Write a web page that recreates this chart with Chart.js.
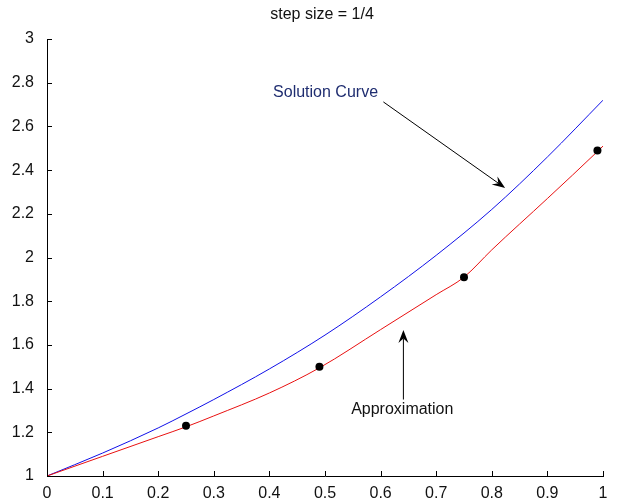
<!DOCTYPE html>
<html>
<head>
<meta charset="utf-8">
<script src="https://cdn.jsdelivr.net/npm/chart.js@4"></script>
<style>
html,body{margin:0;padding:0;background:#fff;}
canvas{display:block;}
</style>
</head>
<body>
<canvas id="c" width="618" height="499"></canvas>
<script>
// ---- data ----
const solX = [0, 0.1, 0.2, 0.25, 0.3, 0.4, 0.5, 0.6, 0.7, 0.8, 0.9, 1.0];
const solY = [1, 1.105, 1.22, 1.284, 1.35, 1.49, 1.645, 1.82, 2.01, 2.22, 2.46, 2.72];

const apxX = [0, 0.1, 0.2, 0.25, 0.3, 0.4, 0.49, 0.6, 0.7, 0.75, 0.8, 0.9, 0.99, 1.0];
const apxY = [1, 1.09, 1.18, 1.225, 1.275, 1.38, 1.495, 1.67, 1.83, 1.91, 2.035, 2.27, 2.485, 2.51];

const ptX = [0.25, 0.49, 0.75, 0.99];
const ptY = [1.23, 1.5, 1.91, 2.49];

const xTicks = [0, 0.1, 0.2, 0.3, 0.4, 0.5, 0.6, 0.7, 0.8, 0.9, 1];
const xTickLabels = ['0', '0.1', '0.2', '0.3', '0.4', '0.5', '0.6', '0.7', '0.8', '0.9', '1'];
const yTicks = [1, 1.2, 1.4, 1.6, 1.8, 2, 2.2, 2.4, 2.6, 2.8, 3];
const yTickLabels = ['1', '1.2', '1.4', '1.6', '1.8', '2', '2.2', '2.4', '2.6', '2.8', '3'];

const titleText = 'step size = 1/4';
const solLabel = 'Solution Curve';
const apxLabel = 'Approximation';

// annotation anchors in data units
const solText = {x: 0.501, y: 2.757};
const solArrow = {x1: 0.605, y1: 2.712, x2: 0.824, y2: 2.318};
const apxText = {x: 0.639, y: 1.302};
const apxArrow = {x1: 0.641, y1: 1.35, x2: 0.641, y2: 1.668};

const FONT = '"Liberation Sans", Arial, sans-serif';

function zip(xs, ys){ return xs.map((x,i)=>({x:x, y:ys[i]})); }

function drawArrow(ctx, x1, y1, x2, y2){
  ctx.save();
  ctx.strokeStyle = '#000';
  ctx.fillStyle = '#000';
  ctx.lineWidth = 1;
  const ang = Math.atan2(y2 - y1, x2 - x1);
  const L = 13, W = 5;
  const bx = x2 - L * Math.cos(ang), by = y2 - L * Math.sin(ang);
  const nx = x2 - L * 0.65 * Math.cos(ang), ny = y2 - L * 0.65 * Math.sin(ang);
  ctx.beginPath();
  ctx.moveTo(x1, y1);
  ctx.lineTo(nx, ny);
  ctx.stroke();
  ctx.beginPath();
  ctx.moveTo(x2, y2);
  ctx.lineTo(bx + W * Math.sin(ang), by - W * Math.cos(ang));
  ctx.lineTo(nx, ny);
  ctx.lineTo(bx - W * Math.sin(ang), by + W * Math.cos(ang));
  ctx.closePath();
  ctx.fill();
  ctx.restore();
}

const overlay = {
  id: 'overlay',
  afterDraw(chart){
    const ctx = chart.ctx;
    const xs = chart.scales.x, ys = chart.scales.y;
    const area = chart.chartArea;
    ctx.save();
    // inside tick marks
    ctx.strokeStyle = '#000';
    ctx.lineWidth = 1;
    ctx.beginPath();
    yTicks.forEach(v => {
      const py = Math.round(ys.getPixelForValue(v)) + 0.5;
      ctx.moveTo(area.left, py);
      ctx.lineTo(area.left + 5, py);
    });
    xTicks.forEach(v => {
      const px = Math.round(xs.getPixelForValue(v)) + 0.5;
      ctx.moveTo(px, area.bottom);
      ctx.lineTo(px, area.bottom - 5);
    });
    ctx.stroke();

    // title
    ctx.fillStyle = '#111';
    ctx.font = '16px ' + FONT;
    ctx.textAlign = 'center';
    ctx.textBaseline = 'middle';
    ctx.fillText(titleText, 322, 15);

    // annotations
    ctx.fillStyle = '#1f2d70';
    ctx.fillText(solLabel, xs.getPixelForValue(solText.x), ys.getPixelForValue(solText.y));
    ctx.fillStyle = '#111';
    ctx.fillText(apxLabel, xs.getPixelForValue(apxText.x), ys.getPixelForValue(apxText.y));

    drawArrow(ctx, xs.getPixelForValue(solArrow.x1), ys.getPixelForValue(solArrow.y1),
                   xs.getPixelForValue(solArrow.x2), ys.getPixelForValue(solArrow.y2));
    drawArrow(ctx, xs.getPixelForValue(apxArrow.x1), ys.getPixelForValue(apxArrow.y1),
                   xs.getPixelForValue(apxArrow.x2), ys.getPixelForValue(apxArrow.y2));
    ctx.restore();
  }
};

new Chart(document.getElementById('c'), {
  type: 'scatter',
  data: {
    datasets: [
      {
        label: solLabel,
        data: zip(solX, solY),
        showLine: true,
        borderColor: '#1010e8',
        borderWidth: 1,
        pointRadius: 0,
        cubicInterpolationMode: 'monotone',
        order: 3
      },
      {
        label: apxLabel,
        data: zip(apxX, apxY),
        showLine: true,
        borderColor: '#e81010',
        borderWidth: 1,
        pointRadius: 0,
        cubicInterpolationMode: 'monotone',
        order: 2
      },
      {
        label: 'points',
        data: zip(ptX, ptY),
        showLine: false,
        pointRadius: 4,
        pointBackgroundColor: '#000',
        pointBorderColor: '#000',
        pointBorderWidth: 0,
        order: 1
      }
    ]
  },
  options: {
    responsive: false,
    devicePixelRatio: 1,
    animation: false,
    layout: { padding: { left: 0, right: 15, top: 39, bottom: 0 } },
    plugins: {
      legend: { display: false },
      tooltip: { enabled: false },
      title: { display: false }
    },
    scales: {
      x: {
        type: 'linear',
        min: 0, max: 1,
        afterBuildTicks(s){ s.ticks = xTicks.map(v => ({value: v})); },
        afterFit(s){ s.height = 23; },
        grid: { display: false },
        border: { display: true, color: '#000', width: 1 },
        ticks: {
          color: '#111',
          font: { family: FONT, size: 16 },
          padding: 0,
          maxRotation: 0,
          autoSkip: false,
          callback: (v, i) => xTickLabels[i]
        }
      },
      y: {
        type: 'linear',
        min: 1, max: 3,
        afterBuildTicks(s){ s.ticks = yTicks.map(v => ({value: v})); },
        afterFit(s){ s.width = 47; },
        grid: { display: false },
        border: { display: true, color: '#000', width: 1 },
        ticks: {
          color: '#111',
          font: { family: FONT, size: 16 },
          padding: 5,
          autoSkip: false,
          callback: (v, i) => yTickLabels[i]
        }
      }
    }
  },
  plugins: [overlay]
});
</script>
</body>
</html>
